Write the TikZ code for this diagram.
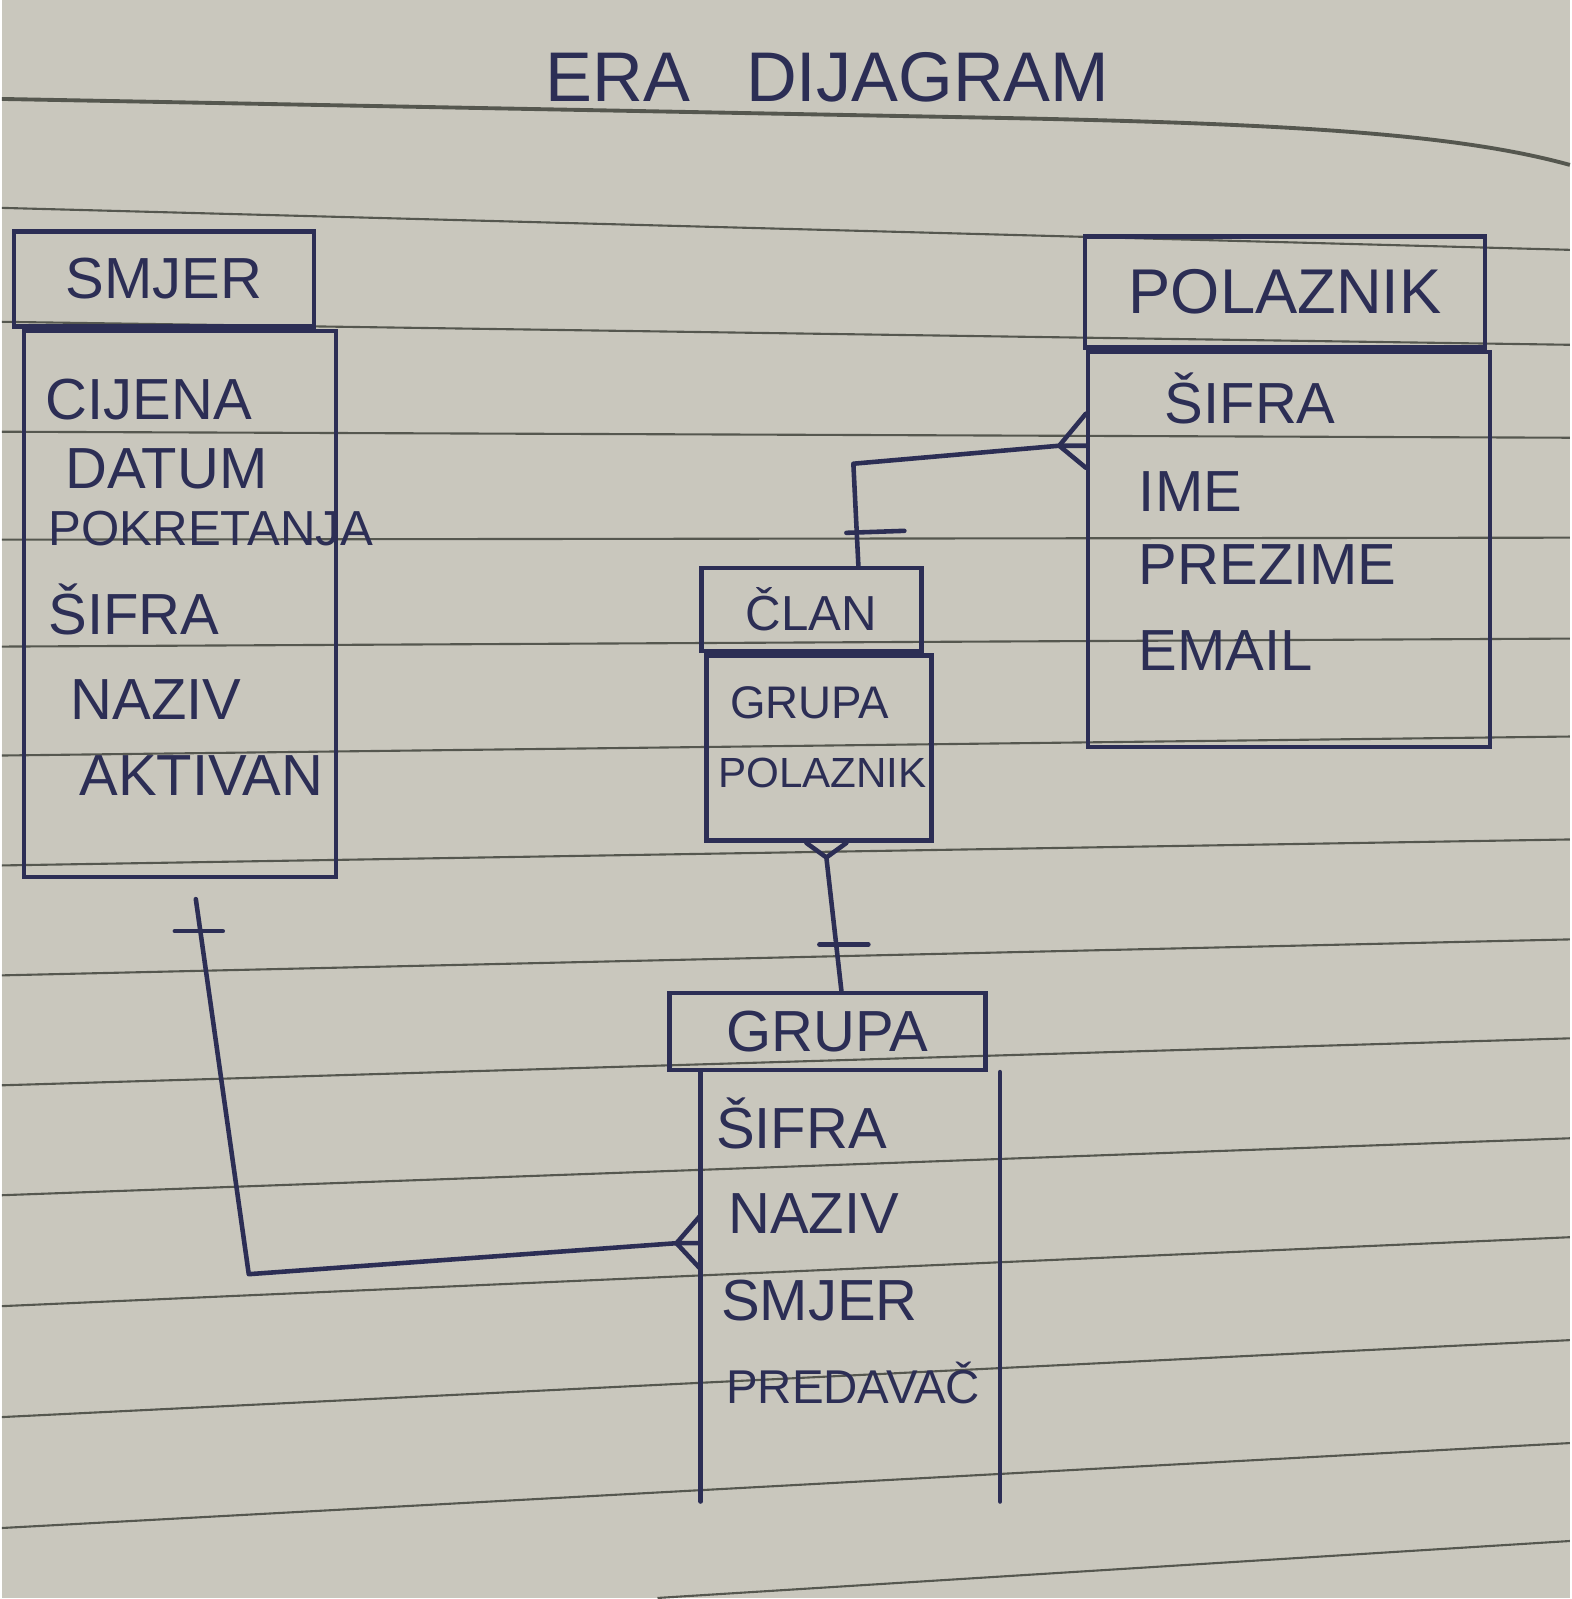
\documentclass[tikz,border=0pt]{standalone}
\usepackage{fontspec}
\setmainfont{Liberation Sans}
\usepackage{xcolor}
\usetikzlibrary{positioning}
\definecolor{eraInk}{HTML}{2C2E55}
\definecolor{eraPaper}{HTML}{C9C7BD}
\definecolor{eraRule}{HTML}{55574F}
\tikzset{
  eraHeader/.style={
    draw=eraInk,
    line width=1.3pt,
    text=eraInk,
    inner sep=0pt,
    font=\fontsize{16.5}{19}\selectfont
  },
  eraBody/.style={
    draw=eraInk,
    line width=1.3pt,
    inner sep=0pt
  },
  eraAttr/.style={
    text=eraInk,
    inner sep=0pt,
    anchor=base west
  },
  eraLink/.style={
    draw=eraInk,
    line width=1.3pt,
    line cap=round,
    line join=round
  },
  eraLine/.style={
    draw=eraRule,
    line width=0.6pt
  }
}

\begin{document}
\begin{tikzpicture}[x=0.01cm, y=-0.01cm]
% paper and ruling
\fill[eraPaper] (0,0) rectangle (1569,1599);
\draw[eraLine, line width=1.1pt] (0,99) -- (1000,118)
  .. controls (1300,124) and (1460,135) .. (1569,165);
\foreach \l/\r in {208/250, 322/345, 432/438, 540/538, 647/639, 756/737,
                   866/840, 976/940, 1086/1039, 1196/1139, 1307/1238,
                   1418/1341, 1529/1444}
  \draw[eraLine] (0,\l) -- (1569,\r);
\draw[eraLine] (656,1599) -- (1569,1542);

\node[text=eraInk, font=\fontsize{20}{24}\selectfont] (naslov) at (826,77)
  {ERA\hspace{0.8em}DIJAGRAM};

% entities
\node[eraHeader, minimum width=3.0cm, minimum height=0.95cm] (smjer)
  at (162,279) {SMJER\hspace{6mm}};
\node[eraBody, minimum width=3.12cm, minimum height=5.46cm,
      below=0pt of smjer, xshift=1.6mm] (smjer body) {};

\node[eraHeader, minimum width=4.0cm, minimum height=1.11cm,
      font=\fontsize{18}{21}\selectfont] (polaznik) at (1284,292) {POLAZNIK};
\node[eraBody, minimum width=4.02cm, minimum height=3.95cm,
      below=0pt of polaznik, xshift=0.4mm] (polaznik body) {};

\node[eraHeader, minimum width=2.2cm, minimum height=0.83cm,
      font=\fontsize{14}{17}\selectfont] (clan) at (810,610) {ČLAN};
\node[eraBody, minimum width=2.25cm, minimum height=1.85cm,
      below=0pt of clan, xshift=0.75mm] (clan body) {};

\node[eraHeader, minimum width=3.16cm, minimum height=0.77cm] (grupa)
  at (826,1032) {GRUPA};
\node[minimum width=2.98cm, minimum height=4.28cm, inner sep=0pt,
      below=0pt of grupa, xshift=2.3mm] (grupa body) {};
\draw[eraLink] (grupa body.north west) -- (grupa body.south west);
\draw[eraLink] (grupa body.north east) -- (grupa body.south east);

% attributes
\foreach \ime/\xx/\yy/\vel [count=\n] in {CIJENA/43/420/16.5,
    DATUM/63/489/16.5, POKRETANJA/46/546/14, ŠIFRA/46/635/16.5,
    NAZIV/68/720/16.5, AKTIVAN/77/796/16.5}
  \node[eraAttr, font=\fontsize{\vel}{\vel}\selectfont] (smjer-\n)
    at (\xx,\yy) {\ime};
\foreach \ime/\xx/\yy [count=\n] in {ŠIFRA/1163/424, IME/1137/512,
    PREZIME/1137/585, EMAIL/1137/671}
  \node[eraAttr, font=\fontsize{16.5}{19}\selectfont] (polaznik-\n)
    at (\xx,\yy) {\ime};
\foreach \ime/\xx/\yy/\vel [count=\n] in {GRUPA/728/719/13,
    POLAZNIK/716/788/12}
  \node[eraAttr, font=\fontsize{\vel}{\vel}\selectfont] (clan-\n)
    at (\xx,\yy) {\ime};
\foreach \ime/\xx/\yy/\vel [count=\n] in {ŠIFRA/714/1149/16.5,
    NAZIV/726/1234/16.5, SMJER/719/1321/16.5, PREDAVAČ/724/1404/13.5}
  \node[eraAttr, font=\fontsize{\vel}{\vel}\selectfont] (grupa-\n)
    at (\xx,\yy) {\ime};

% SMJER -- GRUPA
\coordinate (smjer kut) at (247,1275);
\coordinate (grupa noga) at (675,1244);
\coordinate (grupa ulaz) at (grupa noga -| grupa body.west);
\draw[eraLink] ([xshift=1.6mm,yshift=-2mm]smjer body.south) -- (smjer kut)
  -- (grupa noga) -- (grupa ulaz);
\draw[eraLink] ([yshift=2.8mm]grupa ulaz) -- (grupa noga)
  -- ([yshift=-2.6mm]grupa ulaz);
\draw[eraLink] ([xshift=-0.5mm,yshift=-5.2mm]smjer body.south) -- ++(48,0);

% CLAN -- POLAZNIK
\coordinate (clan kut) at (852,464);
\coordinate (polaznik noga) at (1058,446);
\coordinate (polaznik ulaz) at (polaznik noga -| polaznik body.west);
\draw[eraLink] ([xshift=4.7mm]clan.north) -- (clan kut) -- (polaznik noga)
  -- (polaznik ulaz);
\draw[eraLink] ([yshift=3.2mm]polaznik ulaz) -- (polaznik noga)
  -- ([yshift=-2.2mm]polaznik ulaz);
\draw[eraLink] ([xshift=3.5mm,yshift=3.3mm]clan.north) -- ++(58,-2);

% CLAN -- GRUPA
\coordinate (clan noga) at (825,858);
\draw[eraLink] (clan noga) -- ([xshift=1.4mm]grupa.north);
\draw[eraLink] ([xshift=-1.25mm]clan body.south) -- (clan noga)
  -- ([xshift=2.75mm]clan body.south);
\draw[eraLink] ([xshift=-0.8mm,yshift=4.6mm]grupa.north) -- ++(49,0);
\end{tikzpicture}
\end{document}
